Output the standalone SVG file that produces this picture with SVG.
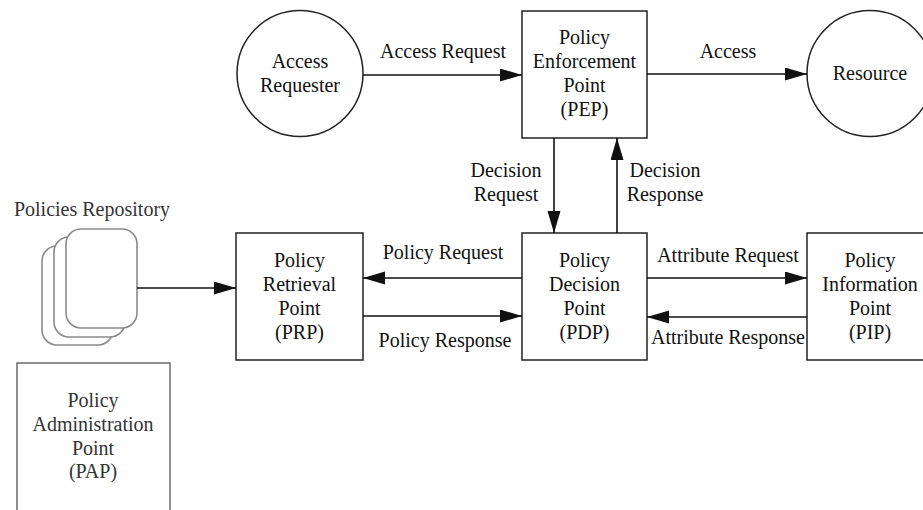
<svg xmlns="http://www.w3.org/2000/svg" width="923" height="510" viewBox="0 0 923 510" font-family="'Liberation Serif', 'Times New Roman', serif">
<defs>
<marker id="ah" markerUnits="userSpaceOnUse" markerWidth="22" markerHeight="14" refX="22" refY="6.5" orient="auto">
<path d="M0,0 L22,6.5 L0,13 z" fill="#111"/>
</marker>
<style>
.box{fill:#fff;stroke:#222;stroke-width:1.5}
.rep{fill:#fff;stroke:#8a8a8a;stroke-width:1.6}
.pap{fill:#fff;stroke:#555;stroke-width:1.3}
.t{font-family:'Liberation Serif','Times New Roman',serif;font-size:20px;fill:#111;text-anchor:middle}
.g{font-family:'Liberation Serif','Times New Roman',serif;font-size:20px;fill:#333;text-anchor:middle}
.e{stroke:#111;stroke-width:1.6;fill:none;marker-end:url(#ah)}
</style>
</defs>
<rect width="923" height="510" fill="#fff"/>

<g id="access-requester">
<circle class="box" cx="300" cy="73.5" r="63"/>
<text class="t" x="300" y="68">Access</text>
<text class="t" x="300" y="92">Requester</text>
</g>

<g id="resource">
<circle class="box" cx="870" cy="73.5" r="63"/>
<text class="t" x="870" y="80">Resource</text>
</g>

<g id="pep">
<rect class="box" x="522" y="11" width="125" height="127"/>
<text class="t" x="584.5" y="44">Policy</text>
<text class="t" x="584.5" y="68">Enforcement</text>
<text class="t" x="584.5" y="92">Point</text>
<text class="t" x="584.5" y="116">(PEP)</text>
</g>

<g id="pdp">
<rect class="box" x="522" y="233" width="125" height="127"/>
<text class="t" x="584.5" y="267">Policy</text>
<text class="t" x="584.5" y="291">Decision</text>
<text class="t" x="584.5" y="315">Point</text>
<text class="t" x="584.5" y="339">(PDP)</text>
</g>

<g id="prp">
<rect class="box" x="236" y="233" width="127" height="127"/>
<text class="t" x="299.5" y="267">Policy</text>
<text class="t" x="299.5" y="291">Retrieval</text>
<text class="t" x="299.5" y="315">Point</text>
<text class="t" x="299.5" y="339">(PRP)</text>
</g>

<g id="pip">
<rect class="box" x="807" y="233" width="127" height="127"/>
<text class="t" x="870" y="267">Policy</text>
<text class="t" x="870" y="291">Information</text>
<text class="t" x="870" y="315">Point</text>
<text class="t" x="870" y="339">(PIP)</text>
</g>

<g id="policies-repository">
<text class="g" x="92" y="216">Policies Repository</text>
<rect class="rep" x="42" y="246" width="71" height="99" rx="15"/>
<rect class="rep" x="54" y="237" width="71" height="100" rx="15"/>
<rect class="rep" x="66" y="229" width="71" height="99" rx="15"/>
</g>

<g id="pap">
<rect class="pap" x="17" y="363" width="153" height="160"/>
<text class="g" x="93" y="407">Policy</text>
<text class="g" x="93" y="431">Administration</text>
<text class="g" x="93" y="455">Point</text>
<text class="g" x="93" y="478">(PAP)</text>
</g>

<g id="connectors">
<line class="e" x1="363" y1="75" x2="522" y2="75"/>
<line class="e" x1="647" y1="74" x2="807" y2="74"/>
<line class="e" x1="554" y1="138" x2="554" y2="233"/>
<line class="e" x1="617" y1="233" x2="617" y2="138"/>
<line class="e" x1="522" y1="278" x2="363" y2="278"/>
<line class="e" x1="363" y1="316" x2="522" y2="316"/>
<line class="e" x1="647" y1="278" x2="807" y2="278"/>
<line class="e" x1="807" y1="317" x2="647" y2="317"/>
<line class="e" x1="137" y1="288" x2="236" y2="288"/>
<text class="t" x="443" y="58">Access Request</text>
<text class="t" x="728" y="58">Access</text>
<text class="t" x="506" y="177">Decision</text>
<text class="t" x="506" y="201">Request</text>
<text class="t" x="665" y="177">Decision</text>
<text class="t" x="665" y="201">Response</text>
<text class="t" x="443" y="259">Policy Request</text>
<text class="t" x="445" y="347">Policy Response</text>
<text class="t" x="728" y="262">Attribute Request</text>
<text class="t" x="728" y="344">Attribute Response</text>
</g>
</svg>
